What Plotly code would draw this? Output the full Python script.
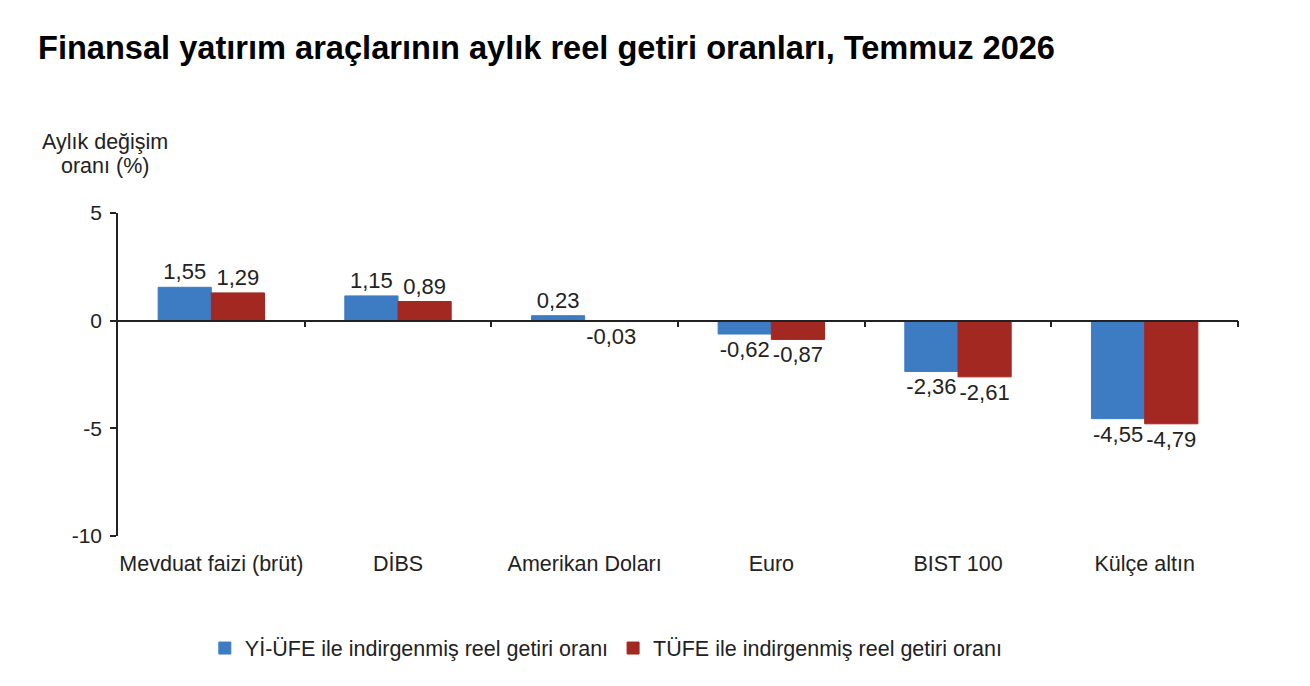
import plotly.graph_objects as go

categories = ["Mevduat faizi (brüt)", "DİBS", "Amerikan Doları", "Euro", "BIST 100", "Külçe altın"]
yi_ufe = [1.55, 1.15, 0.23, -0.62, -2.36, -4.55]
tufe = [1.29, 0.89, -0.03, -0.87, -2.61, -4.79]
series_names = ["Yİ-ÜFE ile indirgenmiş reel getiri oranı", "TÜFE ile indirgenmiş reel getiri oranı"]
y_ticks = [5, 0, -5, -10]
y_tick_labels = ["5", "0", "-5", "-10"]
boundaries = [0.5, 1.5, 2.5, 3.5, 4.5, 5.5]

BLUE = "#3D7CC3"
RED = "#A32822"
FONT = "Liberation Sans"

fig = go.Figure()
for name, vals, col in [(series_names[0], yi_ufe, BLUE), (series_names[1], tufe, RED)]:
    fig.add_trace(go.Bar(
        x=categories, y=vals, name=name, marker_color=col,
        marker_line_width=1, marker_line_color=col,
        texttemplate="%{y:.2f}", textposition="outside",
        textfont=dict(family=FONT, size=22, color="#222"),
        cliponaxis=False,
    ))

# invisible trace to carry the zero-line axis
fig.add_trace(go.Scatter(x=[None], y=[None], xaxis="x2", yaxis="y",
                         showlegend=False, hoverinfo="skip"))

fig.update_layout(
    width=1310, height=686,
    paper_bgcolor="white", plot_bgcolor="white",
    separators=",.",
    barmode="group", bargap=0.43, bargroupgap=0.0,
    margin=dict(l=110, r=80, t=205, b=158, autoexpand=False),
    title=dict(text="<b>Finansal yatırım araçlarının aylık reel getiri oranları, Temmuz 2026</b>",
               x=0.0229, xanchor="left", y=0.942, yref="container", yanchor="middle",
               font=dict(family=FONT, size=32.6, color="#000")),
    font=dict(family=FONT, size=21, color="#222"),
    xaxis=dict(showline=False, ticks="", showgrid=False, zeroline=False,
               tickfont=dict(family=FONT, size=21.5, color="#222"), ticklabelstandoff=12,
               range=[-0.5, 5.5]),
    xaxis2=dict(overlaying="x", anchor="free", position=2/3, range=[-0.5, 5.5],
                showline=True, linecolor="#222", linewidth=1.5,
                ticks="outside", ticklen=6, tickcolor="#222", tickwidth=1.5,
                tickvals=boundaries, showticklabels=False, showgrid=False, zeroline=False),
    yaxis=dict(range=[-10, 5], tickvals=y_ticks, ticktext=y_tick_labels,
               showline=True, linecolor="#222", linewidth=1.5,
               ticks="outside", ticklen=6, tickcolor="#222", tickwidth=1.5,
               showgrid=False, zeroline=False, ticklabelstandoff=4,
               tickfont=dict(family=FONT, size=21, color="#222")),
    legend=dict(orientation="h", x=0.436, xanchor="center", y=-0.347, yanchor="middle",
                font=dict(family=FONT, size=21.5, color="#222"), traceorder="normal",
                itemwidth=30),
    showlegend=True,
)

fig.add_annotation(text="Aylık değişim", xref="paper", yref="paper",
                   x=-0.0116, y=1.2198, xanchor="center", yanchor="middle", showarrow=False,
                   font=dict(family=FONT, size=21.5, color="#222"))
fig.add_annotation(text="oranı (%)", xref="paper", yref="paper",
                   x=-0.0116, y=1.1455, xanchor="center", yanchor="middle", showarrow=False,
                   font=dict(family=FONT, size=21.5, color="#222"))

fig.write_html("out.html")
